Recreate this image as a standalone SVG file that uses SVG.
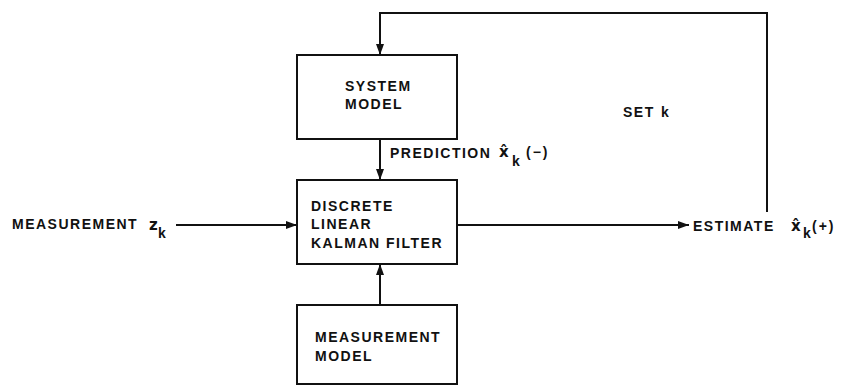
<svg xmlns="http://www.w3.org/2000/svg" width="852" height="386" viewBox="0 0 852 386">
<style>
.box{fill:#fff;stroke:#111;stroke-width:2}
.t{font-family:"Liberation Sans","DejaVu Sans",Arial,sans-serif;font-size:14px;font-weight:bold;letter-spacing:1.5px;fill:#111}
.m{font-family:"DejaVu Sans","Liberation Sans",sans-serif;font-size:15px;font-weight:bold;fill:#111}
.s{font-family:"Liberation Sans","DejaVu Sans",sans-serif;font-size:14px;font-weight:bold;fill:#111}
.c{fill:none;stroke:#111;stroke-width:2}
</style>
<defs>
<marker id="ah" viewBox="0 0 11 8" refX="11" refY="4" markerWidth="11" markerHeight="8" markerUnits="userSpaceOnUse" orient="auto">
<path d="M0,0 L11,4 L0,8 Z" fill="#111"/>
</marker>
</defs>
<rect width="852" height="386" fill="#fff"/>
<g id="connectors">
<path class="c" d="M767,212 V13 H380 V55" marker-end="url(#ah)"/>
<path class="c" d="M380,139 V180" marker-end="url(#ah)"/>
<path class="c" d="M380,305 V264" marker-end="url(#ah)"/>
<path class="c" d="M176,225 H297" marker-end="url(#ah)"/>
<path class="c" d="M457,225 H689" marker-end="url(#ah)"/>
</g>
<g id="system-model">
<rect class="box" x="297" y="55" width="160" height="84"/>
<text class="t" x="345" y="91">SYSTEM</text>
<text class="t" x="345" y="109">MODEL</text>
</g>
<g id="kalman-filter">
<rect class="box" x="297" y="180" width="160" height="84"/>
<text class="t" x="311" y="211">DISCRETE</text>
<text class="t" x="311" y="229">LINEAR</text>
<text class="t" x="311" y="248">KALMAN FILTER</text>
</g>
<g id="measurement-model">
<rect class="box" x="297" y="305" width="160" height="79"/>
<text class="t" x="315" y="342">MEASUREMENT</text>
<text class="t" x="315" y="361">MODEL</text>
</g>
<g id="measurement-input">
<text class="t" x="12" y="229">MEASUREMENT</text>
<text class="m" x="149" y="230">z</text>
<text class="s" x="158" y="238">k</text>
</g>
<g id="prediction-label">
<text class="t" x="390" y="158">PREDICTION</text>
<text class="m" x="499" y="157">x̂</text>
<text class="s" x="512" y="166">k</text>
<text class="s" x="526" y="157" letter-spacing="2">(−)</text>
</g>
<g id="estimate-output">
<text class="t" x="693" y="231">ESTIMATE</text>
<text class="m" x="791" y="231">x̂</text>
<text class="s" x="803" y="238">k</text>
<text class="s" x="812" y="231" letter-spacing="2">(+)</text>
</g>
<g id="set-k">
<text class="t" x="623" y="117">SET</text>
<text class="s" x="661" y="117">k</text>
</g>
</svg>
